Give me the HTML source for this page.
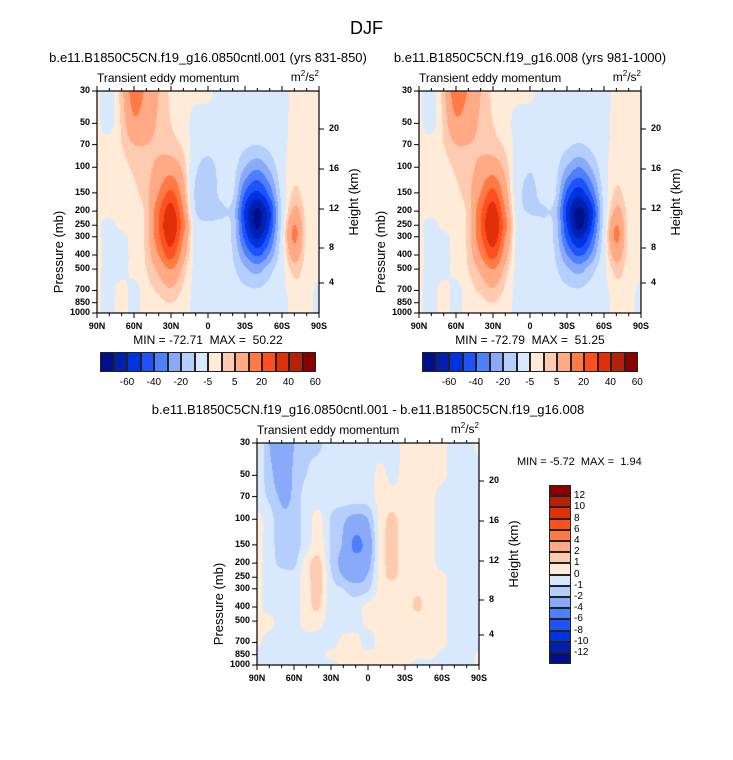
<!DOCTYPE html>
<html><head><meta charset="utf-8">
<style>
body{margin:0;background:#fff;width:733px;height:760px;position:relative;font-family:"Liberation Sans",sans-serif;overflow:hidden}
.t{position:absolute;white-space:nowrap;color:#000}
canvas{position:absolute}
</style></head>
<body>
<div class="t" style="left:0;width:733px;text-align:center;top:18px;font-size:18px">DJF</div>
<div id="root"></div>
<script>
// ---- data ----
const pressures=[30,50,70,100,150,200,250,300,400,500,700,850,1000];
const lats=[90,80,70,60,50,40,30,20,10,0,-10,-20,-30,-40,-50,-60,-70,-80,-90];
const xTickLabels=["90N","60N","30N","0","30S","60S","90S"];
const heightLabels=["20","16","12","8","4"];
const levelsTop=[-70,-60,-50,-40,-30,-20,-10,0,5,10,20,30,40,60,80];
const levelsDiff=[-12,-10,-8,-6,-4,-2,-1,0,1,2,4,6,8,10,12];
const topBarLabels=["-60","-40","-20","-5","5","20","40","60"];
const diffBarLabels=["12","10","8","6","4","2","1","0","-1","-2","-4","-6","-8","-10","-12"];
const colors=["#00108a","#0020b0","#0033e0","#1f52fa","#4d80fa","#88aaf8","#b6cefc","#d8e9fd","#ffebd8","#ffcbb0","#ffaa85","#ff7a45","#ff4f1f","#e0300a","#b5200a","#8b0000"];
const fieldA=[
[1,-3,8,25,18,10,4,2,2,2,-3,-3,-3,-3,-3,-3,2,2,2],
[1,-2,6,18,14,9,5,3,-3,-4,-3,-3,-3,-3,-3,-2,2,2,2],
[1,2,5,10,10,9,7,4,-3,-6,-4,-4,-8,-10,-7,-2,2,2,2],
[1,2,3,6,8,12,15,8,-8,-14,-7,-6,-20,-28,-18,-3,3,2,2],
[1,2,2,4,8,20,32,14,-12,-18,-8,-8,-40,-52,-36,-6,6,2,2],
[1,2,2,3,7,28,45,20,-10,-15,-12,-14,-52,-72,-52,-8,12,3,2],
[1,-2,2,3,7,30,50,24,-4,-8,-8,-12,-50,-72,-50,-6,20,3,2],
[1,-2,-2,3,7,28,46,20,-3,-4,-6,-12,-44,-62,-42,-4,22,3,2],
[1,-2,-2,2,6,20,34,14,-2,-3,-5,-10,-30,-42,-28,-3,14,3,2],
[1,-2,-2,2,5,12,20,8,-2,-3,-4,-8,-18,-24,-14,-2,7,3,2],
[1,-2,2,-2,3,6,9,4,-2,-3,-3,-5,-8,-9,-6,-2,3,3,-2],
[1,-2,2,-2,3,4,5,3,-2,-3,-3,-3,-5,-5,-4,-2,2,2,-2],
[1,-2,2,-2,3,3,3,2,-2,-3,-3,-3,-5,-7,-4,-2,2,2,-2]];
const fieldB=[
[1,-3,8,26,19,10,4,2,2,2,-3,-3,-3,-3,-3,-3,2,2,2],
[1,-2,6,18,14,9,5,3,-3,-4,-3,-3,-3,-3,-3,-2,2,2,2],
[1,2,5,10,10,9,7,4,-2,-4,-3,-4,-8,-11,-7,-2,2,2,2],
[1,2,3,6,8,12,15,8,-4,-9,-5,-6,-21,-30,-19,-3,3,2,2],
[1,2,2,4,8,20,33,14,-6,-13,-7,-8,-42,-55,-38,-6,6,2,2],
[1,2,2,3,7,28,46,20,-5,-11,-11,-14,-53,-73,-53,-8,12,3,2],
[1,-2,2,3,7,30,51,24,-3,-6,-8,-12,-50,-73,-50,-6,20,3,2],
[1,-2,-2,3,7,28,47,20,-3,-4,-6,-12,-44,-62,-42,-4,22,3,2],
[1,-2,-2,2,6,20,34,14,-2,-3,-5,-10,-30,-42,-28,-3,14,3,2],
[1,-2,-2,2,5,12,20,8,-2,-3,-4,-8,-18,-24,-14,-2,7,3,2],
[1,-2,2,-2,3,6,9,4,-2,-3,-3,-5,-8,-9,-6,-2,3,3,-2],
[1,-2,2,-2,3,4,5,3,-2,-3,-3,-3,-5,-5,-4,-2,2,2,-2],
[1,-2,2,-2,3,3,3,2,-2,-3,-3,-3,-5,-7,-4,-2,2,2,-2]];
const fieldDiff=[
[0.3,-2,-3.5,-2,-1.3,-1.2,-0.5,-0.5,-0.5,-0.5,-0.5,-0.5,0.3,0.4,0.4,0.3,-0.5,-0.5,0.3],
[-0.5,-1.5,-3,-1.8,-1,-0.5,-0.5,-0.5,-0.5,-0.5,0.3,-0.3,0.4,0.4,0.4,0.3,-0.5,-0.5,-0.5],
[-0.5,-1.2,-2.2,-1.8,-0.5,-0.5,-0.5,-0.5,-0.5,-0.5,0.4,0.4,0.4,0.4,0.4,-0.5,-0.5,-0.5,-0.5],
[0.3,-0.5,-1.8,-1.6,-0.5,0.3,-1.1,-1.8,-2.5,-2,0.4,1.2,0.4,0.4,0.4,-0.5,-0.5,-0.5,-0.5],
[0.3,-0.5,-1.6,-1.5,-0.5,0.5,-1.1,-2.2,-4.5,-3,0.4,1.3,0.4,0.4,0.4,-0.5,-0.5,-0.5,-0.5],
[0.3,-0.5,-1.3,-1.3,0.5,1.3,-1.1,-2.5,-3,-2.5,0.4,1.3,0.4,0.4,0.4,-0.5,-0.5,-0.5,-0.5],
[0.3,-0.5,-0.5,-0.5,0.6,1.4,-0.8,-2,-2.5,-1.8,0.4,1.2,0.4,0.4,0.4,0.3,-0.5,-0.5,-0.5],
[0.3,-0.5,-0.5,-0.5,0.6,1.3,-0.5,-1,-1.5,-1.2,0.4,0.4,0.4,0.8,0.5,0.3,-0.5,-0.5,-0.5],
[0.3,-0.5,-0.5,-0.5,0.6,1.1,-0.5,-0.5,-0.5,0.3,0.4,0.4,0.4,1.2,0.4,0.3,-0.5,-0.5,-0.5],
[0.3,0.3,-0.5,-0.5,0.5,0.4,-0.5,-0.5,-0.5,0.3,0.4,0.4,0.4,0.4,0.4,0.3,-0.5,-0.5,-0.5],
[0.3,-0.5,-0.5,-0.5,-0.5,-0.5,-0.5,0.3,0.4,-0.5,0.4,0.4,0.4,0.4,0.4,0.3,-0.5,-0.5,-0.5],
[-0.5,-0.5,-0.5,-0.5,-0.5,-0.3,0.3,0.4,0.4,0.3,0.4,0.4,0.4,0.4,0.4,-0.3,-0.5,-0.5,0.2],
[-0.5,-0.5,-0.5,-0.5,-0.5,-0.5,-0.5,0.3,0.3,0.3,0.3,0.3,0.3,-0.5,-0.5,-0.5,-0.5,-0.5,0.2]];

// ---- helpers ----
const root=document.getElementById('root');
const W=222,H=222;
function txt(parent,s,x,y,size,extra){
  const d=document.createElement('div');d.className='t';d.textContent=s;
  d.style.left=x+'px';d.style.top=y+'px';d.style.fontSize=size+'px';
  if(extra)d.style.cssText+=extra;parent.appendChild(d);return d;}
function hex(c){return [parseInt(c.slice(1,3),16),parseInt(c.slice(3,5),16),parseInt(c.slice(5,7),16)];}
const rgb=colors.map(hex);
function yOfP(p){return H*Math.log(p/30)/Math.log(1000/30);}
function xOfLat(l){return W*(90-l)/180;}
function cr(p0,p1,p2,p3,t){return 0.5*((2*p1)+(-p0+p2)*t+(2*p0-5*p1+4*p2-p3)*t*t+(-p0+3*p1-3*p2+p3)*t*t*t);}
function g(field,r,c){r=Math.max(0,Math.min(field.length-1,r));c=Math.max(0,Math.min(field[0].length-1,c));return field[r][c];}
function sample(field,fx,fy){
  const lat=90-180*fx/W;
  const p=30*Math.exp(fy/H*Math.log(1000/30));
  let ci=(90-lat)/10;ci=Math.max(0,Math.min(lats.length-1.0001,ci));
  const c0=Math.floor(ci),tx=ci-c0;
  let r0=0;while(r0<pressures.length-2&&pressures[r0+1]<p)r0++;
  let ty=(Math.log(p)-Math.log(pressures[r0]))/(Math.log(pressures[r0+1])-Math.log(pressures[r0]));
  ty=Math.max(0,Math.min(1,ty));
  const rows=[];
  for(let k=-1;k<=2;k++){const r=r0+k;rows.push(cr(g(field,r,c0-1),g(field,r,c0),g(field,r,c0+1),g(field,r,c0+2),tx));}
  return cr(rows[0],rows[1],rows[2],rows[3],ty);}
function panel(name,L,T,field,levels){
  const cv=document.createElement('canvas');cv.width=W;cv.height=H;
  cv.style.left=L+'px';cv.style.top=T+'px';
  
  
  root.appendChild(cv);
  const ctx=cv.getContext('2d');const img=ctx.createImageData(W,H);
  for(let y=0;y<H;y++)for(let x=0;x<W;x++){
    const v=sample(field,x+0.5,y+0.5);let k=0;while(k<levels.length&&levels[k]<=v)k++;
    const c=rgb[k],i=(y*W+x)*4;img.data[i]=c[0];img.data[i+1]=c[1];img.data[i+2]=c[2];img.data[i+3]=255;}
  ctx.putImageData(img,0,0);
  const ns='http://www.w3.org/2000/svg';
  const svg=document.createElementNS(ns,'svg');
  svg.setAttribute('width',W+40);svg.setAttribute('height',H+40);
  svg.style.cssText='position:absolute;left:'+(L-20)+'px;top:'+(T-20)+'px;overflow:visible';
  
  
  let s='<rect x="20" y="20" width="'+W+'" height="'+H+'" fill="none" stroke="#000" stroke-width="1.2"/>';
  for(let l=90;l>=-90;l-=10){const x=20+xOfLat(l);const maj=l%30===0;
    s+='<line x1="'+x+'" y1="'+(20+H)+'" x2="'+x+'" y2="'+(20+H+(maj?5:3))+'" stroke="#000"/>';
    s+='<line x1="'+x+'" y1="20" x2="'+x+'" y2="'+(20-(maj?5:3))+'" stroke="#000"/>';}
  pressures.forEach(p=>{const y=20+yOfP(p);s+='<line x1="20" y1="'+y+'" x2="15" y2="'+y+'" stroke="#000"/>';});
  [38,78,118,157,192].forEach(y=>{s+='<line x1="'+(20+W)+'" y1="'+(20+y)+'" x2="'+(25+W)+'" y2="'+(20+y)+'" stroke="#000"/>';});
  svg.innerHTML=s;root.appendChild(svg);
  pressures.forEach(p=>{const d=txt(root,String(p),L-40,T+yOfP(p)-6,9,'width:33px;text-align:right;font-weight:bold');
    });
  xTickLabels.forEach((lb,i)=>{const d=txt(root,lb,L+i*W/6-15,T+H+8,9,'width:30px;text-align:center;font-weight:bold');
    });
  heightLabels.forEach((lb,i)=>{const d=txt(root,lb,L+W+10,T+[38,78,118,157,192][i]-6,9,'font-weight:bold');
    });
  let d=txt(root,'Pressure (mb)',L-138,T+H/2-8,13,'width:100px;text-align:center;transform:rotate(-90deg);transform-origin:100px 8px');
  
  d=txt(root,'Height (km)',L+W-10,T+H/2-8,13,'width:90px;text-align:center;transform:rotate(-90deg);transform-origin:45px 8px');
  
  d=txt(root,'Transient eddy momentum',L,T-20,12);
  d=txt(root,'',L+W-40,T-22,12,'width:40px;text-align:right');d.innerHTML='m<sup style="font-size:8px">2</sup>/s<sup style="font-size:8px">2</sup>';
  
}
function hbar(L,T){
  const bw=13.5;
  colors.forEach((c,i)=>{const b=document.createElement('div');
    b.style.cssText='position:absolute;left:'+(L+i*bw)+'px;top:'+T+'px;width:'+bw+'px;height:20px;background:'+c+';box-sizing:border-box;border:0.5px solid #222';
    root.appendChild(b);});
  topBarLabels.forEach((lb,i)=>{const d=txt(root,lb,L+27+i*26.9-15,T+25,10,'width:30px;text-align:center');
    });
}
panel('left-panel',97,91,fieldA,levelsTop);
panel('right-panel',419,91,fieldB,levelsTop);
hbar(100,352);hbar(422,352);
let d;
d=txt(root,'b.e11.B1850C5CN.f19_g16.0850cntl.001 (yrs 831-850)',20,50,13,'width:376px;text-align:center');
d=txt(root,'b.e11.B1850C5CN.f19_g16.008 (yrs 981-1000)',342,50,13,'width:376px;text-align:center');
d=txt(root,'MIN = -72.71  MAX =  50.22',108,333,12,'width:200px;text-align:center;white-space:pre');
d=txt(root,'MIN = -72.79  MAX =  51.25',430,333,12,'width:200px;text-align:center;white-space:pre');
panel('diff-panel',257,443,fieldDiff,levelsDiff);
d=txt(root,'b.e11.B1850C5CN.f19_g16.0850cntl.001 - b.e11.B1850C5CN.f19_g16.008',130,402,13,'width:476px;text-align:center');
d=txt(root,'MIN = -5.72  MAX =  1.94',517,456,11,'white-space:pre');
const bh=11.2;
colors.slice().reverse().forEach((c,i)=>{const b=document.createElement('div');
  b.style.cssText='position:absolute;left:549px;top:'+(485+i*bh)+'px;width:22px;height:'+bh+'px;background:'+c+';box-sizing:border-box;border:0.5px solid #222';
  root.appendChild(b);});
diffBarLabels.forEach((lb,i)=>{const d=txt(root,lb,574,485+(i+1)*bh-6,10);
  });
</script>
</body></html>
